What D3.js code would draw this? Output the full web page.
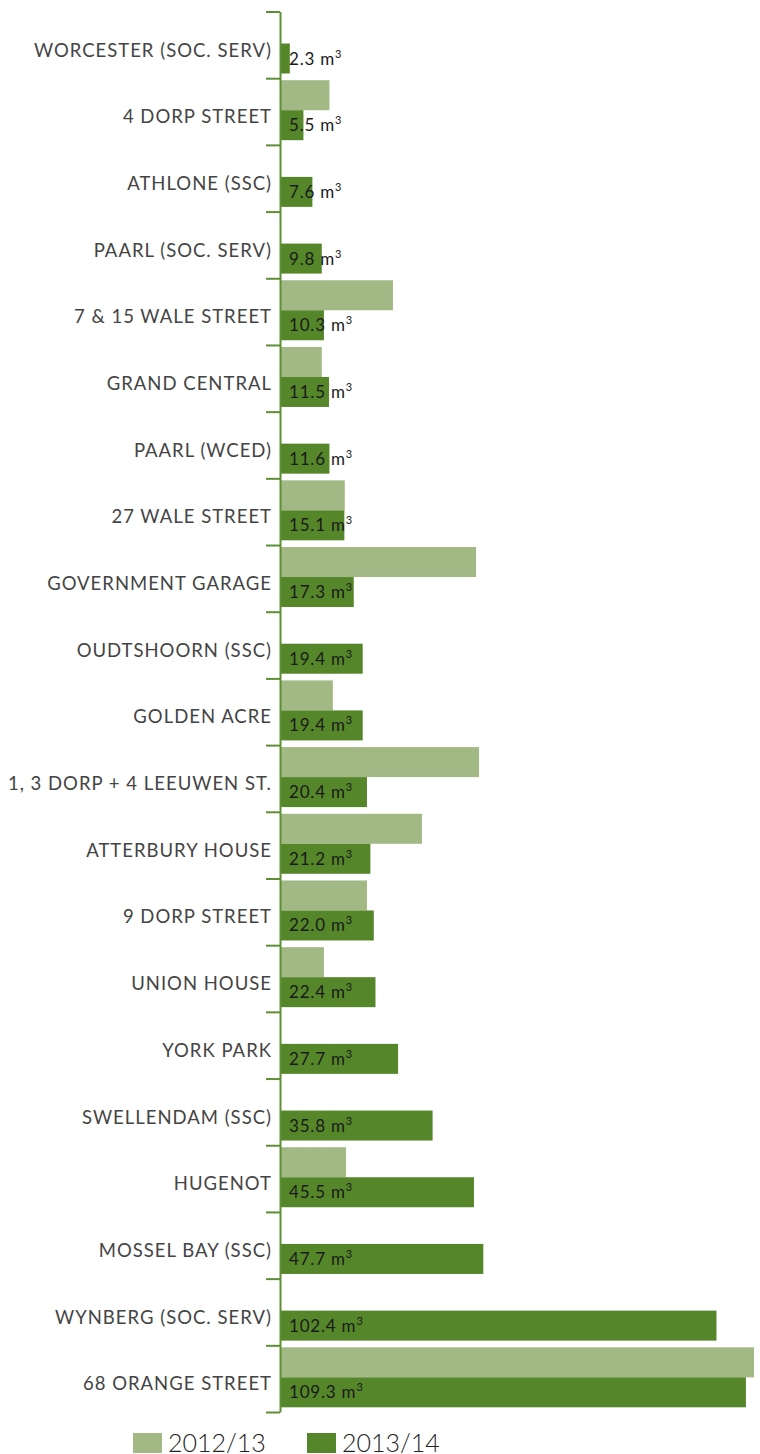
<!DOCTYPE html>
<html>
<head>
<meta charset="utf-8">
<script src="https://cdn.jsdelivr.net/npm/d3@7"></script>
<style>
  body { margin: 0; background: #fff; }
  text { font-family: Lato, "Open Sans", sans-serif; }
</style>
</head>
<body>
<script>
let width = 760, height = 1454;

let categories = [
    'WORCESTER (SOC. SERV)', '4 DORP STREET', 'ATHLONE (SSC)', 'PAARL (SOC. SERV)',
    '7 & 15 WALE STREET', 'GRAND CENTRAL', 'PAARL (WCED)', '27 WALE STREET',
    'GOVERNMENT GARAGE', 'OUDTSHOORN (SSC)', 'GOLDEN ACRE', '1, 3 DORP + 4 LEEUWEN ST.',
    'ATTERBURY HOUSE', '9 DORP STREET', 'UNION HOUSE', 'YORK PARK',
    'SWELLENDAM (SSC)', 'HUGENOT', 'MOSSEL BAY (SSC)', 'WYNBERG (SOC. SERV)', '68 ORANGE STREET'
]
let series = ['2012/13', '2013/14']
let values2012 = [null, 11.6, null, null, 26.5, 9.8, null, 15.2, 46.0, null, 12.4, 46.7,
    33.3, 20.4, 10.3, null, null, 15.5, null, null, 111.2]
let values2013 = [2.3, 5.5, 7.6, 9.8, 10.3, 11.5, 11.6, 15.1, 17.3, 19.4, 19.4, 20.4,
    21.2, 22.0, 22.4, 27.7, 35.8, 45.5, 47.7, 102.4, 109.3]
let colors = ['#a2b985', '#55862a']

let margin = { top: 11.5, left: 280, right: 6, bottom: 42 }

let svg = d3.select('body').append('svg')
    .attr('width', width).attr('height', height)

let x = d3.scaleLinear()
    .domain([0, 111.2])
    .range([margin.left, width - margin.right])
let y = d3.scaleBand()
    .domain(categories)
    .range([margin.top, height - margin.bottom])
    .padding(0)
let ySub = d3.scaleBand()
    .domain(series)
    .range([2, 62])
// band edges for the tick marks
let yEdge = d3.scaleLinear()
    .domain([0, categories.length])
    .range([margin.top, height - margin.bottom])

let rows = categories.map((c, i) => ({ name: c, v: [values2012[i], values2013[i]] }))

let groups = svg.append('g').selectAll('g')
    .data(rows).join('g')
    .attr('transform', d => `translate(0, ${y(d.name)})`)

groups.selectAll('rect')
    .data(d => d.v.map((v, k) => ({ key: series[k], v: v })).filter(e => e.v != null))
    .join('rect')
    .attr('x', x(0))
    .attr('y', e => ySub(e.key))
    .attr('width', e => x(e.v) - x(0))
    .attr('height', ySub.bandwidth())
    .attr('fill', e => colors[series.indexOf(e.key)])

// value labels on 2013/14 bars
let vl = groups.append('text')
    .attr('x', x(0) + 9)
    .attr('y', ySub('2013/14') + ySub.bandwidth() / 2 + 6)
    .attr('font-size', 17)
    .attr('letter-spacing', 0.8)
    .attr('fill', '#1a1a1a')
vl.append('tspan').text(d => d.v[1].toFixed(1) + ' m')
vl.append('tspan').attr('dy', -7).attr('font-size', 11).text('3')

// category labels
groups.append('text')
    .attr('x', 272)
    .attr('y', 45)
    .attr('text-anchor', 'end')
    .attr('font-size', 18.5)
    .attr('letter-spacing', 1.0)
    .attr('fill', '#444')
    .text(d => d.name)

// axis
svg.append('g')
    .attr('transform', `translate(${x(0)}, 0)`)
    .call(d3.axisLeft(yEdge).tickValues(d3.range(categories.length + 1))
        .tickSize(14).tickSizeOuter(0).tickFormat(''))
    .call(g => g.selectAll('path, line').attr('stroke', '#5e8f35').attr('stroke-width', 2))

// legend
let legend = svg.append('g')
    .selectAll('g').data(series).join('g')
    .attr('transform', (d, i) => `translate(${[133, 307][i]}, 1433)`)
legend.append('rect')
    .attr('width', 29).attr('height', 20)
    .attr('fill', (d, i) => colors[i])
legend.append('text')
    .attr('x', 35).attr('y', 19)
    .attr('font-size', 25)
    .attr('font-weight', 300)
    .attr('fill', '#222')
    .text(d => d)
</script>
</body>
</html>
